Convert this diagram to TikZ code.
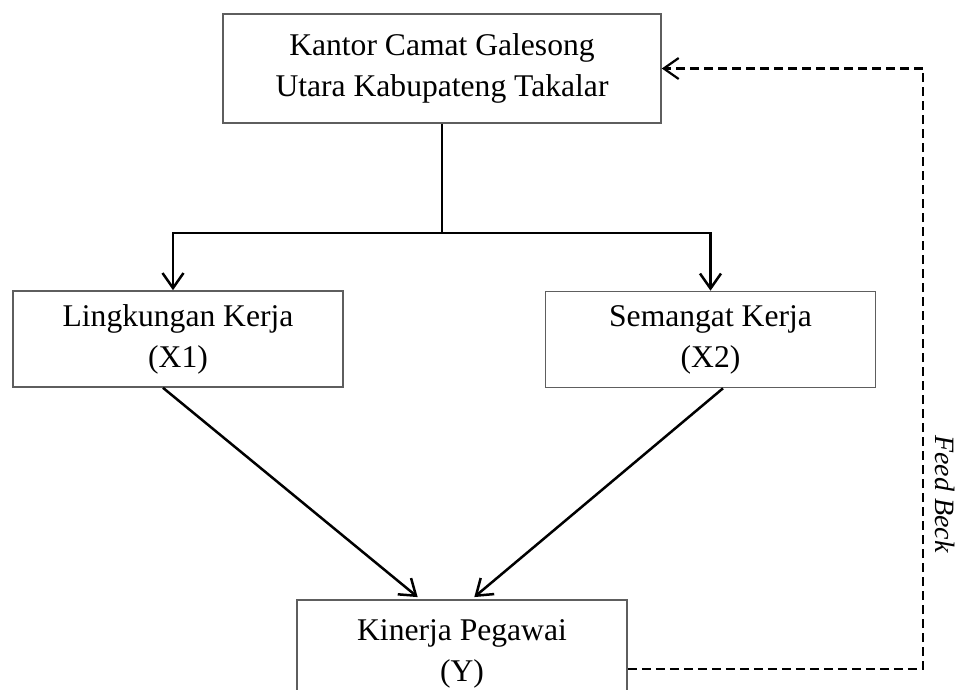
\documentclass[tikz,border=0pt]{standalone}
\usepackage{fontspec}
\setmainfont{Liberation Serif}
\usetikzlibrary{arrows.meta,positioning,calc}
\definecolor{frame}{HTML}{5E5E5E}
\tikzset{
  >={Straight Barb[length=15pt,width=21pt]},
  base/.style={
    draw=frame, line width=1.6pt, fill=white, align=center, inner sep=0pt,
    font=\fontsize{31.6}{41}\selectfont, minimum width=330pt, minimum height=96pt
  },
  link/.style={line width=2.5pt, draw=black},
  flow/.style={->, line width=2.5pt, draw=black},
  dashflow/.style={->, line width=2.2pt, draw=black, dash pattern=on 9pt off 5pt},
  tag/.style={font=\fontsize{28}{30}\selectfont\itshape, inner sep=0pt}
}

\begin{document}
\begin{tikzpicture}[x=1pt,y=-1pt]
  \useasboundingbox (0,0) rectangle (962,689);

  \node[base, minimum width=438pt, minimum height=109pt] (kantor) at (442,68.5)
     {Kantor Camat Galesong\\Utara Kabupateng Takalar};
  \node[base] (lingkungan) at (178,339) {Lingkungan Kerja\\(X1)};
  \node[base] (semangat)   at (710.5,339.5) {Semangat Kerja\\(X2)};
  \node[base, minimum height=108pt, anchor=north] (kinerja) at (462,599)
     {Kinerja Pegawai\\(Y)};

  % split point and feedback column
  \coordinate (split) at (442,233);
  \coordinate (fb) at (923,0);

  \draw[link] (kantor.south) -- (split);
  \draw[flow] (split) -| ([xshift=-5pt]lingkungan.north);
  \draw[flow] (split) -| (semangat.north);

  \draw[flow, shorten >=3pt] ([xshift=-15pt]lingkungan.south) -- ([xshift=-42pt]kinerja.north);
  \draw[flow, shorten >=3pt] ([xshift=12.5pt]semangat.south) -- ([xshift=10pt]kinerja.north);

  \draw[dashflow] ([yshift=-15pt]kinerja.east) -| (fb |- kantor.east) -- (kantor.east);
  \node[tag, rotate=-90] (fblabel) at (945,494) {Feed Beck};
\end{tikzpicture}
\end{document}
